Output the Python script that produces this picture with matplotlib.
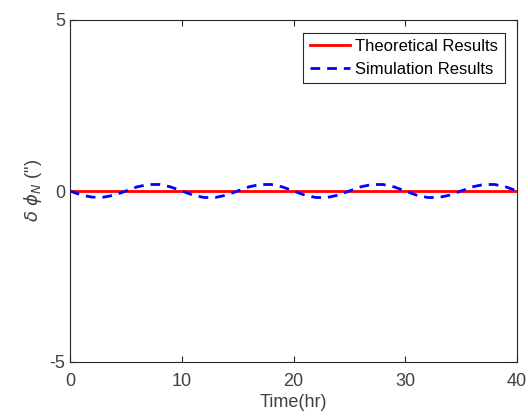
import numpy as np
import matplotlib.pyplot as plt

plt.rcParams['font.family'] = ['Liberation Sans', 'DejaVu Sans']
plt.rcParams['axes.unicode_minus'] = False

# time (hr) and attitude error (arcsec)
t = [0, 1, 2, 3, 4, 5, 6, 7, 8, 9, 10, 11, 12, 13, 14, 15, 16, 17, 18, 19, 20,
     21, 22, 23, 24, 25, 26, 27, 28, 29, 30, 31, 32, 33, 34, 35, 36, 37, 38, 39, 40]
sim = [0, -0.12, -0.18, -0.18, -0.12, 0, 0.12, 0.19, 0.19, 0.12, 0,
       -0.12, -0.19, -0.19, -0.12, 0, 0.12, 0.19, 0.19, 0.12, 0,
       -0.12, -0.19, -0.19, -0.12, 0, 0.12, 0.19, 0.19, 0.12, 0,
       -0.12, -0.19, -0.19, -0.12, 0, 0.12, 0.19, 0.19, 0.12, 0]
theory = [0] * len(t)

fig = plt.figure(figsize=(5.28, 4.20), dpi=100)
ax = fig.add_axes([70/528, 58/420, 447/528, 342/420])

ax.plot(t, theory, color='red', linewidth=2, label='Theoretical Results')
ax.plot(t, sim, color='blue', linewidth=2, linestyle=(0, (3.5, 2.5)), label='Simulation Results')

ax.set_xlim(0, 40)
ax.set_ylim(-5, 5)
ax.set_xticks([0, 10, 20, 30, 40])
ax.set_yticks([-5, 0, 5])
ax.set_yticklabels(['-5', '0', '5'])
ax.tick_params(direction='in', labelsize=13, colors='#262626', labelcolor='#404040',
               length=4, top=True, right=True)
ax.tick_params(axis='x', pad=8)
for s in ax.spines.values():
    s.set_color('#262626')
    s.set_linewidth(0.8)

ax.set_xlabel('Time(hr)', fontsize=13, color='#404040', labelpad=3)
ax.set_ylabel(r'$\delta\ \phi_N$ (")', fontsize=13, color='#404040', labelpad=4)

leg = ax.legend(loc='upper right', fontsize=12, fancybox=False, framealpha=1,
                edgecolor='#262626', handlelength=2.4, borderaxespad=0.75,
                labelspacing=0.45, borderpad=0.4, handletextpad=0.3)
leg.get_frame().set_linewidth(0.8)

fig.savefig('out.png', dpi=100)
